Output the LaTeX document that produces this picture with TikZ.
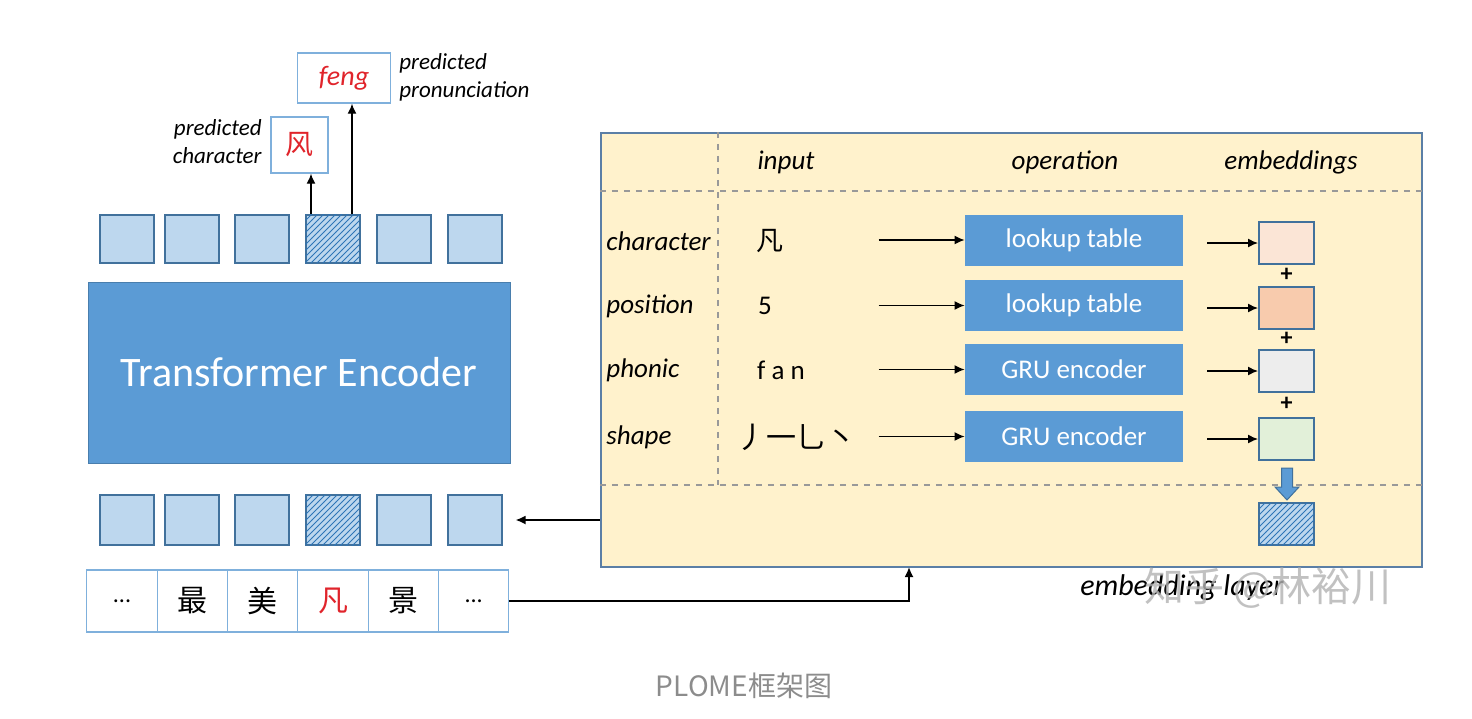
\documentclass[tikz,border=0pt]{standalone}
\usepackage{fontspec}
\setmainfont{Carlito}
\newfontfamily\cjk{Noto Sans CJK SC}
\usetikzlibrary{patterns,calc,arrows.meta}
\definecolor{tfblue}{HTML}{5B9BD5}
\definecolor{sqfill}{HTML}{BDD7EE}
\definecolor{sqdraw}{HTML}{41719C}
\definecolor{hatchc}{HTML}{2E75B6}
\definecolor{cellc}{HTML}{7FB0DC}
\definecolor{embfill}{HTML}{FFF2CC}
\definecolor{embdraw}{HTML}{5B7FA6}
\definecolor{echar}{HTML}{FBE5D6}
\definecolor{epos}{HTML}{F8CBAD}
\definecolor{ephon}{HTML}{EDEDED}
\definecolor{eshape}{HTML}{E2F0D9}
\definecolor{predred}{HTML}{E0242B}

\begin{document}
\begin{tikzpicture}[x=0.5pt,y=-0.5pt,
	sq/.style={draw=sqdraw, fill=sqfill, line width=1pt, minimum width=27pt, minimum height=24pt, inner sep=0pt},
	hsq/.style={sq, postaction={pattern=north east lines, pattern color=hatchc}},
	cell/.style={draw=cellc, line width=0.6pt, minimum width=35.2pt, minimum height=31pt, inner sep=0pt, font=\cjk\fontsize{15}{15}\selectfont},
	opbox/.style={fill=tfblue, text=white, minimum width=109pt, minimum height=25.5pt, inner sep=0pt, font=\fontsize{13.5}{16}\selectfont},
	esq/.style={draw=sqdraw, line width=1pt, minimum width=27.5pt, minimum height=21pt, inner sep=0pt},
	lbl/.style={font=\fontsize{13.5}{16}\selectfont\itshape, inner sep=0pt},
	plbl/.style={font=\fontsize{11.5}{14}\selectfont\itshape, inner sep=0pt},
	arr/.style={-{Latex[length=5pt,width=4.5pt]}, line width=0.7pt},
	sep/.style={dashed, color=gray!80, line width=0.6pt}
	]
	\useasboundingbox (0,0) rectangle (1472,718);
	
	\node[sq] (t1) at (127,238.5) {}; \node[sq] (t2) at (191.5,238.5) {}; \node[sq] (t3) at (262,238.5) {};
	\node[hsq] (t4) at (332.5,238.5) {}; \node[sq] (t5) at (403.5,238.5) {}; \node[sq] (t6) at (474.5,238.5) {};
	
	\node[fill=tfblue, draw=sqdraw!70!tfblue, minimum width=211pt, minimum height=90.5pt, text=white,
	font=\fontsize{21}{24}\selectfont] (enc) at (299,372.5) {Transformer Encoder};
	
	\node[sq, minimum height=25pt] (b1) at (127,520) {}; \node[sq, minimum height=25pt] (b2) at (191.5,520) {};
	\node[sq, minimum height=25pt] (b3) at (262,520) {}; \node[hsq, minimum height=25pt] (b4) at (332.5,520) {};
	\node[sq, minimum height=25pt] (b5) at (403.5,520) {}; \node[sq, minimum height=25pt] (b6) at (474.5,520) {};
	
	\node[cell, font=\fontsize{12}{12}\selectfont] (c1) at (122,601) {...}; \node[cell] (c2) at (192.33,601) {最};
	\node[cell] (c3) at (262.67,601) {美}; \node[cell, text=predred] (c4) at (333,601) {凡};
	\node[cell] (c5) at (403.33,601) {景}; \node[cell, font=\fontsize{12}{12}\selectfont] (c6) at (473.67,601) {...};
	
	\node[draw=cellc, line width=0.7pt, minimum width=28.5pt, minimum height=28pt, inner sep=0pt, text=predred,
	font=\cjk\fontsize{14}{14}\selectfont] (pc) at (299.5,145) {风};
	\node[draw=cellc, line width=0.7pt, minimum width=46.5pt, minimum height=25pt, inner sep=0pt, text=predred,
	font=\fontsize{14}{16}\selectfont\itshape] (pp) at (344,78) {feng};
	\node[plbl, anchor=east, align=right] at (262,142) {predicted\\character};
	\node[plbl, anchor=west, align=left] at (399,77) {predicted\\pronunciation};
	\draw[arr] ([xshift=-10.75pt]t4.north) -- ([xshift=-10.75pt]t4.north |- pc.south);
	\draw[arr] ([xshift=9.75pt]t4.north) -- ([xshift=9.75pt]t4.north |- pp.south);
	
	\node[draw=embdraw, fill=embfill, line width=1.1pt, minimum width=410.5pt, minimum height=217pt] (emb) at (1011.5,350) {};
	\draw[sep] (emb.west |- 0,191) -- (emb.east |- 0,191);
	\draw[sep] (emb.west |- 0,485) -- (emb.east |- 0,485);
	\draw[sep] (emb.north -| 718,0) -- (718,485);
	
	\node[lbl] at (786,162) {input}; \node[lbl] at (1065,162) {operation}; \node[lbl] at (1291,162) {embeddings};
	\node[lbl, anchor=west] at (606,241) {character}; \node[lbl, anchor=west] at (606,306) {position};
	\node[lbl, anchor=west] at (606,370) {phonic}; \node[lbl, anchor=west] at (606,437) {shape};
	
	\node[font=\cjk\fontsize{13.5}{13.5}\selectfont] (in1) at (770,241) {凡};
	\node[font=\fontsize{13.5}{16}\selectfont] (in2) at (765,306) {5};
	\node[font=\fontsize{13.5}{16}\selectfont] (in3) at (781,370) {f a n};
	\node[font=\cjk\fontsize{15}{15}\selectfont] (in4) at (796,437) {丿一乚丶};
	
	\node[opbox] (op1) at (1074,240) {lookup table};
	\node[opbox] (op2) at (1074,305.5) {lookup table};
	\node[opbox] (op3) at (1074,369.5) {GRU encoder};
	\node[opbox] (op4) at (1074,436.5) {GRU encoder};
	\draw[arr] ([xshift=-43pt]op1.west) -- (op1.west);
	\draw[arr] ([xshift=-43pt]op2.west) -- (op2.west);
	\draw[arr] ([xshift=-43pt]op3.west) -- (op3.west);
	\draw[arr] ([xshift=-43pt]op4.west) -- (op4.west);
	
	\node[esq, fill=echar] (e1) at (1286.5,243) {};
	\node[esq, fill=epos] (e2) at (1286.5,308) {};
	\node[esq, fill=ephon] (e3) at (1286.5,371) {};
	\node[esq, fill=eshape] (e4) at (1286.5,439) {};
	\draw[arr] ([xshift=-25.5pt]e1.west) -- (e1.west);
	\draw[arr] ([xshift=-25.5pt]e2.west) -- (e2.west);
	\draw[arr] ([xshift=-25.5pt]e3.west) -- (e3.west);
	\draw[arr] ([xshift=-25.5pt]e4.west) -- (e4.west);
	\node[font=\bfseries\fontsize{12}{12}\selectfont, inner sep=0pt] at ($(e1.south)!0.45!(e2.north)$) {+};
	\node[font=\bfseries\fontsize{12}{12}\selectfont, inner sep=0pt] at ($(e2.south)!0.45!(e3.north)$) {+};
	\node[font=\bfseries\fontsize{12}{12}\selectfont, inner sep=0pt] at ($(e3.south)!0.45!(e4.north)$) {+};
	
	\node[esq, fill=sqfill, postaction={pattern=north east lines, pattern color=hatchc}] (eout) at (1286.5,524) {};
	\filldraw[fill=tfblue, draw=sqdraw, line width=0.5pt] (1281.5,468) -- (1292.5,468) -- (1292.5,487) -- (1299,487)
	-- (1287,500) -- (1275,487) -- (1281.5,487) -- cycle;
	
	\draw[arr, line width=0.9pt] (emb.west |- b6) -- ([xshift=6.5pt]b6.east);
	\coordinate (embin) at (909,567);
	\draw[arr, line width=0.9pt] (c6.east) -| (embin);
	
	\node[font=\fontsize{15}{18}\selectfont\itshape] at (1182,588) {embedding layer};
	\node[font=\cjk\fontsize{20}{20}\selectfont, text=gray!60, opacity=0.8] at (1268,588) {知乎 @林裕川};
	\node[font=\cjk\fontsize{14}{14}\selectfont, text=gray!90] at (744,686) {PLOME框架图};
\end{tikzpicture}
\end{document}
